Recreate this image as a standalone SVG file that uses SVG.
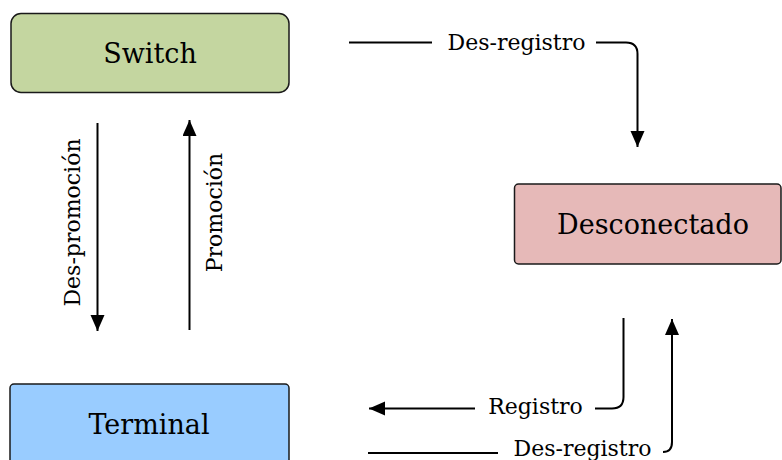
<svg xmlns="http://www.w3.org/2000/svg" width="782" height="460" viewBox="0 0 782 460">
  <style>
    .node-label { font-family: "DejaVu Serif", "Liberation Serif", serif; font-size: 27px; fill: #000; text-anchor: middle; }
    .edge-label { font-family: "DejaVu Serif", "Liberation Serif", serif; font-size: 22px; fill: #000; text-anchor: middle; }
    .box { stroke: #1a1a1a; stroke-width: 1.5; }
    .edge { fill: none; stroke: #000; stroke-width: 2; }
  </style>
  <defs>
    <marker id="arrow" markerUnits="userSpaceOnUse" markerWidth="17" markerHeight="15" refX="16" refY="7" orient="auto">
      <path d="M0,0 L16,7 L0,14 z" fill="#000"/>
    </marker>
  </defs>
  <rect width="782" height="460" fill="#fff"/>

  <g id="switch">
    <rect class="box" x="11" y="13.5" width="278" height="79" rx="10" fill="#c4d6a0"/>
    <text class="node-label" x="150" y="63">Switch</text>
  </g>

  <g id="desconectado">
    <rect class="box" x="514.5" y="184" width="266.5" height="80" rx="4" fill="#e6b9b8"/>
    <text class="node-label" x="653" y="234">Desconectado</text>
  </g>

  <g id="terminal">
    <rect class="box" x="10" y="384" width="279" height="90" rx="4" fill="#99ccff"/>
    <text class="node-label" x="149" y="434">Terminal</text>
  </g>

  <g id="connectors">
    <!-- Switch -> Desconectado -->
    <path class="edge" d="M349,42.5 H432"/>
    <path class="edge" d="M596,42.5 H626 Q637.5,42.5 637.5,54 V147" marker-end="url(#arrow)"/>
    <text class="edge-label" x="516.5" y="50">Des-registro</text>

    <!-- Switch -> Terminal -->
    <path class="edge" d="M97.5,123 V331" marker-end="url(#arrow)"/>
    <text class="edge-label" transform="translate(79.5,222.5) rotate(-90)">Des-promoción</text>

    <!-- Terminal -> Switch -->
    <path class="edge" d="M189.5,330 V120" marker-end="url(#arrow)"/>
    <text class="edge-label" transform="translate(221.5,212.5) rotate(-90)">Promoción</text>

    <!-- Desconectado -> Terminal -->
    <path class="edge" d="M623.5,318 V397 Q623.5,408.5 612,408.5 H595"/>
    <path class="edge" d="M475,408.5 H369" marker-end="url(#arrow)"/>
    <text class="edge-label" x="535.5" y="414">Registro</text>

    <!-- Terminal -> Desconectado -->
    <path class="edge" d="M368,453 H498"/>
    <path class="edge" d="M663,452 Q672,452 672,442 V319" marker-end="url(#arrow)"/>
    <text class="edge-label" x="582.5" y="456">Des-registro</text>
  </g>
</svg>
